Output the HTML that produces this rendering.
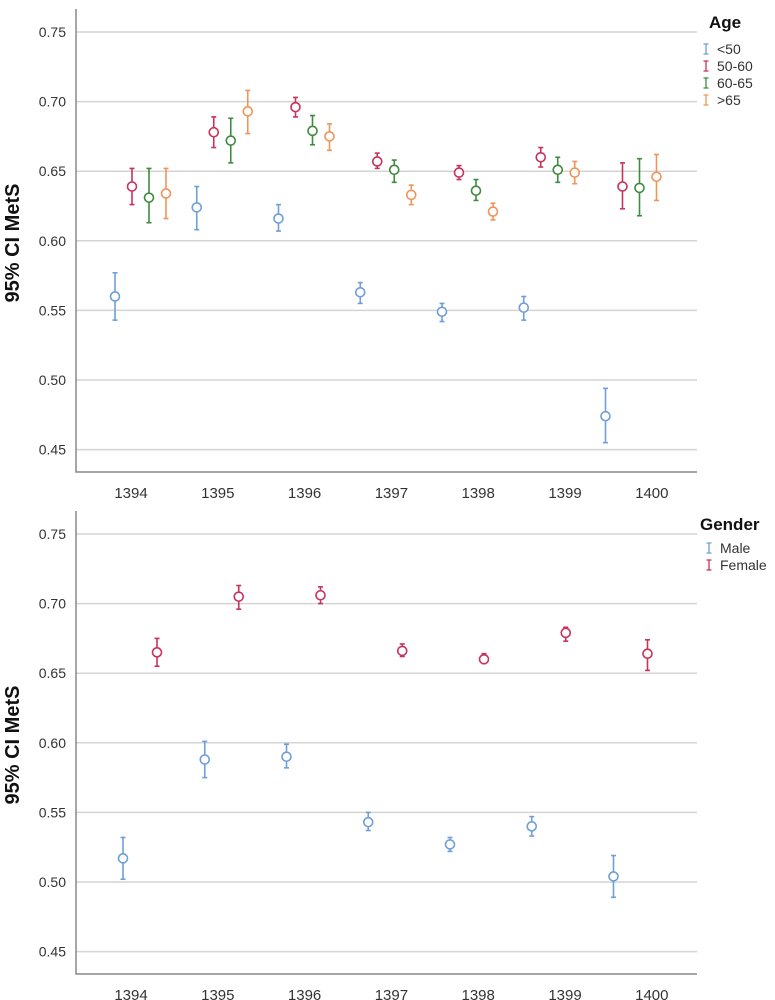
<!DOCTYPE html>
<html><head><meta charset="utf-8"><style>
body{margin:0;background:#fff;}
svg{display:block;font-family:"Liberation Sans",sans-serif;}
</style></head><body>
<svg id="c" width="775" height="1000"></svg>
<script>
const categories=["1394","1395","1396","1397","1398","1399","1400"];
const yTicks=[0.75,0.70,0.65,0.60,0.55,0.50,0.45];
const ageSeries=["<50","50-60","60-65",">65"];
const ageMean=[[.560,.624,.616,.563,.549,.552,.474],[.639,.678,.696,.657,.649,.660,.639],[.631,.672,.679,.651,.636,.651,.638],[.634,.693,.675,.633,.621,.649,.646]];
const ageLo=[[.543,.608,.607,.555,.542,.543,.455],[.626,.667,.689,.652,.644,.653,.623],[.613,.656,.669,.642,.629,.642,.618],[.616,.677,.665,.626,.615,.641,.629]];
const ageHi=[[.577,.639,.626,.570,.555,.560,.494],[.652,.689,.703,.663,.654,.667,.656],[.652,.688,.690,.658,.644,.660,.659],[.652,.708,.684,.640,.627,.657,.662]];
const genderSeries=["Male","Female"];
const genMean=[[.517,.588,.590,.543,.527,.540,.504],[.665,.705,.706,.666,.660,.679,.664]];
const genLo=[[.502,.575,.582,.537,.522,.533,.489],[.655,.696,.700,.662,.657,.673,.652]];
const genHi=[[.532,.601,.599,.550,.532,.547,.519],[.675,.713,.712,.671,.664,.683,.674]];
const colorsAge=["#6f9fd6","#c7335b","#3f8a3f","#ee9559"];
const colorsGen=["#6f9fd6","#c7335b"];
const NS="http://www.w3.org/2000/svg";
const svg=document.getElementById('c');
function mk(t,a,p){const e=document.createElementNS(NS,t);for(const k in a)e.setAttribute(k,a[k]);(p||svg).appendChild(e);return e;}
function panel(top,title,series,mean,lo,hi,colors,start,step,name){
  const g=mk('g',{});
  
  
  const y=v=>top+32+(0.75-v)*1392;
  const L=76,R=697,T=top+9,B=top+472;
  yTicks.forEach(v=>{
    const gl=mk('line',{x1:L,x2:R,y1:y(v),y2:y(v),stroke:'#d4d4d4','stroke-width':1.5},g);
    
    
    const t=mk('text',{x:66,y:y(v)+5,'text-anchor':'end','font-size':14,fill:'#333'},g);
    
    
    t.textContent=v.toFixed(2);
  });
  const ax=mk('path',{d:`M${L} ${T}V${B}H${R}`,fill:'none',stroke:'#888','stroke-width':1.5},g);
  
  
  categories.forEach((c,i)=>{
    const t=mk('text',{x:131+86.8*i,y:B+26,'text-anchor':'middle','font-size':15,fill:'#333'},g);
    
    
    t.textContent=c;
  });
  const yt=mk('text',{x:0,y:0,transform:`translate(19,${top+243}) rotate(-90)`,'text-anchor':'middle','font-size':20,'font-weight':'bold',fill:'#111'},g);
  
  
  yt.textContent='95% CI MetS';
  series.forEach((s,si)=>{
    categories.forEach((c,i)=>{
      const x=start+step*i+ (series.length==4?17:34)*si;
      const col=colors[si];
      const eb=mk('g',{stroke:col,'stroke-width':1.6,fill:'none'},g);
      
      
      mk('line',{x1:x,x2:x,y1:y(hi[si][i]),y2:y(lo[si][i])},eb);
      mk('line',{x1:x-2.5,x2:x+2.5,y1:y(hi[si][i]),y2:y(hi[si][i])},eb);
      mk('line',{x1:x-2.5,x2:x+2.5,y1:y(lo[si][i]),y2:y(lo[si][i])},eb);
      const p=mk('circle',{cx:x,cy:y(mean[si][i]),r:4.5,fill:'#fff'},eb);
      
      
    });
  });
  const lt=mk('text',{x:title=='Age'?709:700,y:top+28,'font-size':17,'font-weight':'bold',fill:'#111'},g);
  
  
  lt.textContent=title;
  series.forEach((s,si)=>{
    const ly=top+(title=='Age'?49:46)+17*si;
    const le=mk('g',{},g);
    
    
    const lx=title=='Age'?706:709;
    mk('path',{d:`M${lx-2.5} ${ly-5}h5M${lx} ${ly-5}v10M${lx-2.5} ${ly+5}h5`,stroke:colors[si],'stroke-width':1.3,fill:'none'},le);
    const t=mk('text',{x:lx+11,y:ly+5,'font-size':14,fill:'#333'},le);
    t.textContent=s;
  });
}
panel(0,'Age',ageSeries,ageMean,ageLo,ageHi,colorsAge,115,81.75,'age-chart');
panel(502,'Gender',genderSeries,genMean,genLo,genHi,colorsGen,123,81.75,'gender-chart');
</script>
</body></html>
